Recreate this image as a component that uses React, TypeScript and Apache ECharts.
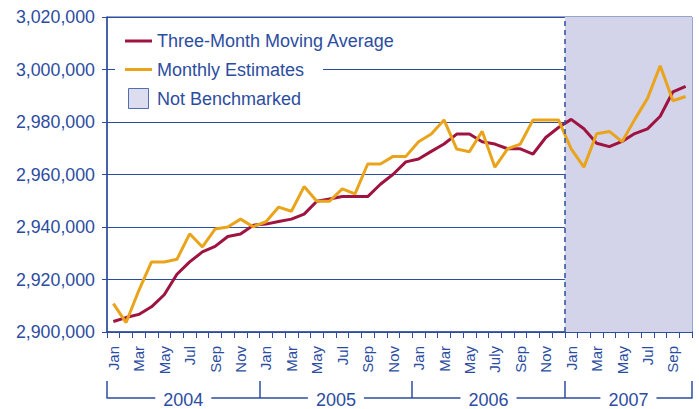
import React, { useEffect, useRef } from "react";
import * as echarts from "echarts";

const years = ["2004", "2005", "2006", "2007"];
const monthsPerYear = [12, 12, 12, 10];
const categories = [
  "Jan 2004", "Feb 2004", "Mar 2004", "Apr 2004", "May 2004", "Jun 2004", "Jul 2004", "Aug 2004", "Sep 2004", "Oct 2004", "Nov 2004", "Dec 2004",
  "Jan 2005", "Feb 2005", "Mar 2005", "Apr 2005", "May 2005", "Jun 2005", "Jul 2005", "Aug 2005", "Sep 2005", "Oct 2005", "Nov 2005", "Dec 2005",
  "Jan 2006", "Feb 2006", "Mar 2006", "Apr 2006", "May 2006", "Jun 2006", "July 2006", "Aug 2006", "Sep 2006", "Oct 2006", "Nov 2006", "Dec 2006",
  "Jan 2007", "Feb 2007", "Mar 2007", "Apr 2007", "May 2007", "Jun 2007", "Jul 2007", "Aug 2007", "Sep 2007", "Oct 2007",
];

const movingAverage = [
  2904000, 2905500, 2906700, 2909600, 2914200, 2922000, 2926700, 2930500, 2932600, 2936400, 2937300, 2940700,
  2941100, 2942100, 2943000, 2944900, 2949800, 2950700, 2951600, 2951600, 2951600, 2956300, 2960100, 2964800,
  2965900, 2968800, 2971600, 2975400, 2975400, 2972500, 2971600, 2969800, 2969800, 2967800, 2974100, 2977900,
  2981000, 2977400, 2971900, 2970600, 2972600, 2975600, 2977400, 2982200, 2991500, 2993600,
];

const monthlyEstimates = [
  2910800, 2903600, 2915800, 2926700, 2926700, 2927700, 2937400, 2932400, 2939200, 2940000, 2943000, 2940100,
  2942000, 2947600, 2946000, 2955400, 2949800, 2949800, 2954500, 2952600, 2964000, 2964000, 2966900, 2966900,
  2972500, 2975400, 2980800, 2969700, 2968700, 2976500, 2962800, 2969800, 2971600, 2980800, 2980800, 2980800,
  2969800, 2962800, 2975500, 2976400, 2972500, 2981000, 2989000, 3001400, 2988100, 2989700,
];

const notBenchmarkedStart = "Jan 2007";

const BLUE = "#2c4d9f";
const RED = "#9e1340";
const ORANGE = "#e9a41c";
const SHADE = "#d3d4ea";
const FONT = "Liberation Sans, Arial, sans-serif";

export default function App() {
  const ref = useRef<HTMLDivElement>(null);

  useEffect(() => {
    if (!ref.current) return;
    const chart = echarts.init(ref.current, undefined, { renderer: "svg" });

    const yearStarts: number[] = [];
    let acc = 0;
    monthsPerYear.forEach((n) => {
      yearStarts.push(acc);
      acc += n;
    });
    const total = acc;
    const yearEdges = [...yearStarts, total];
    const yearCenters = yearStarts.map((s, i) => (s + yearEdges[i + 1]) / 2);
    const shadeStart = categories.indexOf(notBenchmarkedStart);

    const lineIcon = "path://M0,0H27V3H0Z";

    const option: any = {
      animation: false,
      textStyle: { fontFamily: FONT },
      grid: {
        left: 107,
        right: 7,
        top: 17,
        bottom: 73,
        show: true,
        borderColor: BLUE,
        borderWidth: 1,
        backgroundColor: "transparent",
      },
      graphic: [
        {
          type: "rect",
          z: 3,
          shape: { x: 115, y: 60, width: 42, height: 20 },
          style: { fill: "#ffffff" },
        },
      ],
      legend: {
        orient: "vertical",
        left: 125,
        top: 31,
        padding: 0,
        itemWidth: 27,
        itemHeight: 20,
        itemGap: 8.5,
        symbolKeepAspect: true,
        z: 5,
        textStyle: {
          fontFamily: FONT,
          fontSize: 18,
          color: BLUE,
          backgroundColor: "#ffffff",
          padding: [1, 19, 1, 0],
        },
        data: [
          {
            name: "Three-Month Moving Average",
            icon: lineIcon,
            itemStyle: { color: RED, borderWidth: 0 },
          },
          {
            name: "Monthly Estimates",
            icon: lineIcon,
            itemStyle: { color: ORANGE, borderWidth: 0 },
          },
          {
            name: "Not Benchmarked",
            icon: "path://M0,0H20V20H0Z",
            itemStyle: { color: SHADE, borderColor: BLUE, borderWidth: 1 },
          },
        ],
      },
      xAxis: [
        {
          type: "category",
          data: categories,
          boundaryGap: true,
          axisLine: { show: true, lineStyle: { color: BLUE, width: 1.5 } },
          axisTick: { show: true, interval: 0, length: 6, lineStyle: { color: BLUE, width: 1 } },
          axisLabel: {
            interval: 1,
            rotate: 90,
            margin: 14,
            fontSize: 15,
            fontFamily: FONT,
            color: BLUE,
            formatter: (v: string) => v.split(" ")[0],
          },
          splitLine: { show: false },
        },
        {
          type: "value",
          min: 0,
          max: total,
          position: "bottom",
          offset: 66,
          axisLine: { show: true, lineStyle: { color: BLUE, width: 1.5 } },
          axisTick: {
            show: true,
            inside: true,
            length: 17,
            customValues: yearEdges,
            lineStyle: { color: BLUE, width: 1.5 },
          },
          axisLabel: {
            customValues: yearCenters,
            formatter: (v: number) => {
              const i = yearCenters.indexOf(v);
              return i >= 0 ? years[i] : "";
            },
            fontSize: 18,
            fontFamily: FONT,
            color: BLUE,
            backgroundColor: "#ffffff",
            padding: [0, 8],
            verticalAlign: "middle",
            margin: 2,
          },
          splitLine: { show: false },
        },
      ],
      yAxis: {
        type: "value",
        min: 2900000,
        max: 3020000,
        interval: 20000,
        axisLine: { show: true, lineStyle: { color: BLUE, width: 1.5 } },
        axisTick: { show: true, length: 5, lineStyle: { color: BLUE, width: 1 } },
        axisLabel: {
          margin: 12,
          fontSize: 17.8,
          fontFamily: FONT,
          color: BLUE,
          formatter: (v: number) => v.toLocaleString("en-US"),
        },
        splitLine: { show: true, lineStyle: { color: BLUE, width: 1 } },
      },
      series: [
        {
          name: "Not Benchmarked",
          type: "scatter",
          xAxisIndex: 1,
          data: [],
          z: -1,
          itemStyle: { color: SHADE, borderColor: BLUE, borderWidth: 1 },
          markArea: {
            silent: true,
            itemStyle: { color: SHADE, opacity: 1 },
            data: [[{ xAxis: shadeStart }, { xAxis: total }]],
          },
          markLine: {
            silent: true,
            symbol: ["none", "none"],
            label: { show: false },
            lineStyle: { color: BLUE, type: [5, 4], width: 1.5 },
            data: [{ xAxis: shadeStart }],
          },
        },
        {
          name: "Three-Month Moving Average",
          type: "line",
          data: movingAverage,
          symbol: "none",
          showSymbol: false,
          color: RED,
          lineStyle: { color: RED, width: 3 },
          z: 3,
        },
        {
          name: "Monthly Estimates",
          type: "line",
          data: monthlyEstimates,
          symbol: "none",
          showSymbol: false,
          color: ORANGE,
          lineStyle: { color: ORANGE, width: 3 },
          z: 3,
        },
      ],
    };

    chart.setOption(option);
    return () => chart.dispose();
  }, []);

  return (
    <div
      ref={ref}
      style={{ position: "fixed", left: 0, top: 0, width: 699, height: 409, background: "#ffffff" }}
    />
  );
}
